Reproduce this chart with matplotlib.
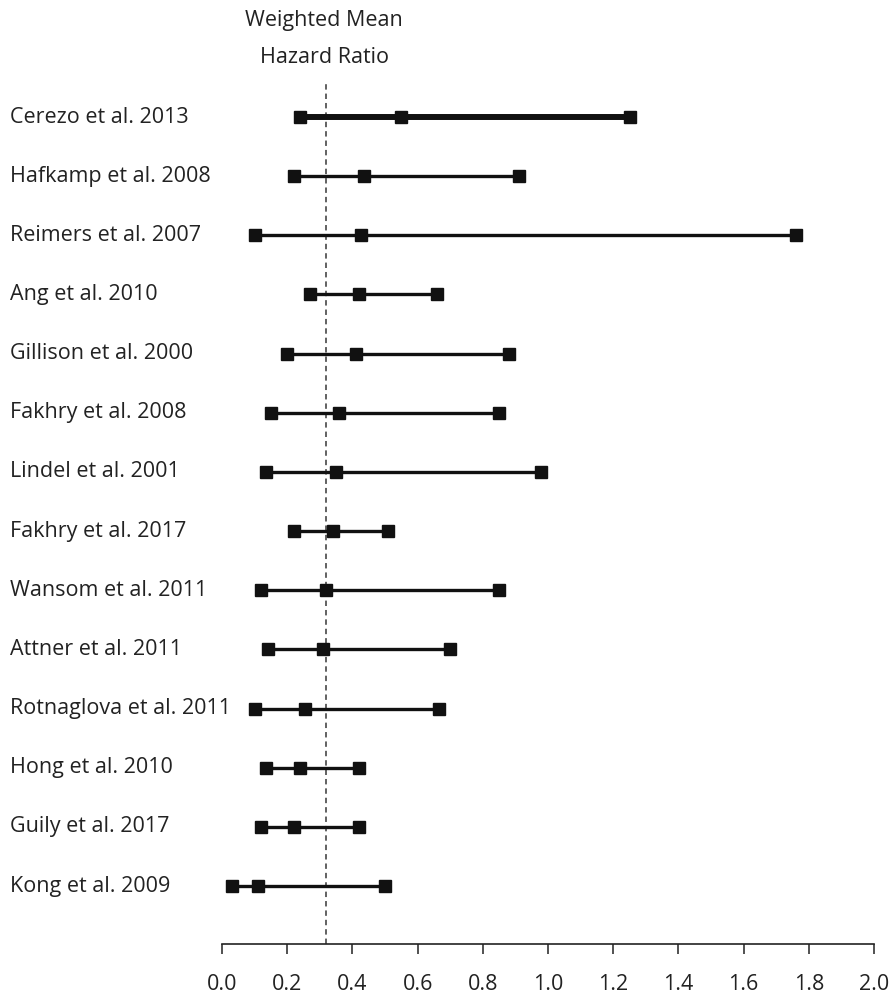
import matplotlib
matplotlib.use('Agg')
import matplotlib.pyplot as plt
from matplotlib import font_manager

# Study hazard ratios: lower bound, point estimate, upper bound
studies = ['Cerezo et al. 2013', 'Hafkamp et al. 2008', 'Reimers et al. 2007',
           'Ang et al. 2010', 'Gillison et al. 2000', 'Fakhry et al. 2008',
           'Lindel et al. 2001', 'Fakhry et al. 2017', 'Wansom et al. 2011',
           'Attner et al. 2011', 'Rotnaglova et al. 2011', 'Hong et al. 2010',
           'Guily et al. 2017', 'Kong et al. 2009']
hr_low = [0.24, 0.22, 0.10, 0.27, 0.20, 0.15, 0.135, 0.22, 0.12, 0.14, 0.10, 0.135, 0.12, 0.03]
hr_mid = [0.55, 0.435, 0.425, 0.42, 0.41, 0.36, 0.35, 0.34, 0.32, 0.31, 0.255, 0.24, 0.22, 0.11]
hr_high = [1.25, 0.91, 1.76, 0.66, 0.88, 0.85, 0.98, 0.51, 0.85, 0.70, 0.665, 0.42, 0.42, 0.50]
weighted_mean = 0.32
xticks = [0.0, 0.2, 0.4, 0.6, 0.8, 1.0, 1.2, 1.4, 1.6, 1.8, 2.0]

# pick a narrow font, something close to Calibri
available = {f.name for f in font_manager.fontManager.ttflist}
font = 'Open Sans'
fsize = 15.5
for fam, sz in [('Liberation Sans Narrow', 17), ('Open Sans', 15.5)]:
    if fam in available:
        font, fsize = fam, sz
        break
plt.rcParams['font.family'] = [font, 'DejaVu Sans']

fig = plt.figure(figsize=(8.9, 10), dpi=100)
ax = fig.add_axes([222 / 890, 0.056, (874 - 222) / 890, 0.917 - 0.056])

for i in range(len(studies)):
    lw = 4.3 if i == 0 else 2.4
    ax.plot([hr_low[i], hr_mid[i], hr_high[i]], [i, i, i], color='#111111',
            linewidth=lw, marker='s', markersize=9.0, solid_capstyle='butt')

ax.axvline(weighted_mean, color='#555555', linestyle=(0, (3, 2.2)), linewidth=1.3, zorder=0)

ax.set_xlim(0, 2.0)
ax.set_ylim(13.98, -0.575)
ax.set_xticks(xticks)
ax.set_xticklabels(['%.1f' % t for t in xticks], fontsize=fsize, color='#222222')
ax.tick_params(axis='x', direction='out', length=7.5, width=1.1, pad=14, color='#222222')
ax.set_yticks([])
for s in ['left', 'top', 'right']:
    ax.spines[s].set_visible(False)
ax.spines['bottom'].set_linewidth(1.2)
ax.spines['bottom'].set_color('#222222')

# study labels on the left
label_trans = matplotlib.transforms.blended_transform_factory(fig.transFigure, ax.transData)
for i, name in enumerate(studies):
    ax.text(10 / 890, i, name, transform=label_trans,
            ha='left', va='center', fontsize=fsize, color='#222222')

fig.text(324 / 890, 1 - 39 / 1000, 'Weighted Mean\nHazard Ratio', ha='center', va='center',
         fontsize=fsize, color='#222222', linespacing=1.95)

plt.savefig('out.png', dpi=100)
